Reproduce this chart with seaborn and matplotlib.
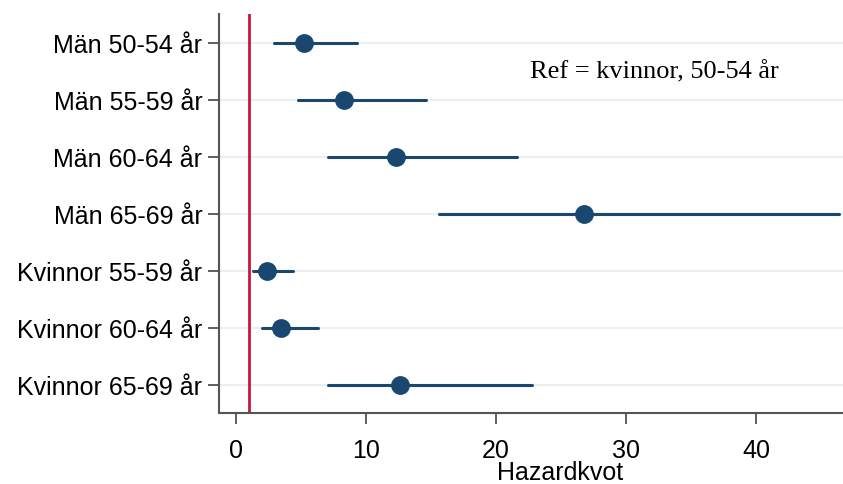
import numpy as np
import pandas as pd
import seaborn as sns
import matplotlib.pyplot as plt

# hazard ratios with 95% CI
groups = ['Män 50-54 år', 'Män 55-59 år', 'Män 60-64 år', 'Män 65-69 år',
          'Kvinnor 55-59 år', 'Kvinnor 60-64 år', 'Kvinnor 65-69 år']
hr    = [5.2, 8.3, 12.3, 26.8, 2.4, 3.45, 12.6]
ci_lo = [2.9, 4.75, 7.1, 15.6, 1.3, 2.0, 7.1]
ci_hi = [9.3, 14.6, 21.6, 46.4, 4.4, 6.3, 22.8]
ref_line = 1
xticks = [0, 10, 20, 30, 40]

navy = '#1a476f'
red = '#c8163e'

sns.set_style('white')
plt.rcParams['font.family'] = ['Liberation Sans', 'DejaVu Sans']
plt.rcParams['text.color'] = 'black'
plt.rcParams['xtick.labelcolor'] = 'black'
plt.rcParams['ytick.labelcolor'] = 'black'
plt.rcParams['axes.labelcolor'] = 'black'

# long table: lo / est / hi per group -> median gives estimate, min/max gives CI
df = pd.DataFrame({
    'grupp': np.repeat(groups, 3),
    'hr': np.column_stack([ci_lo, hr, ci_hi]).ravel(),
})

fig = plt.figure(figsize=(8.43, 4.85), dpi=100)
ax = fig.add_axes([0.2598, 0.146, 0.7402, 0.823])

for i in range(len(groups)):
    ax.axhline(i, color='#e9f0f2', lw=1.5, zorder=0)

sns.pointplot(data=df, x='hr', y='grupp', order=groups, estimator='median',
              errorbar=lambda v: (v.min(), v.max()), color=navy,
              linestyle='none', marker='o', markersize=11.5,
              err_kws={'linewidth': 2.2}, ax=ax)

ax.axvline(ref_line, color=red, lw=2, zorder=1)

ax.set_xlim(-1.3, 46.7)
ax.set_ylim(6.5, -0.5)
ax.set_xticks(xticks)
ax.set_xlabel('Hazardkvot', fontsize=18, labelpad=-1.5)
ax.xaxis.label.set_x(0.546)
ax.set_ylabel('')
ax.tick_params(axis='both', labelsize=18, length=8, width=1.2, color='#444444',
               left=True, bottom=True)
ax.tick_params(axis='x', pad=10)
ax.tick_params(axis='y', pad=4)

for s in ['top', 'right']:
    ax.spines[s].set_visible(False)
for s in ['left', 'bottom']:
    ax.spines[s].set_color('#555555')
    ax.spines[s].set_linewidth(1.5)

ax.text(22.6, 0.5, 'Ref = kvinnor, 50-54 år', fontsize=19,
        family=['Liberation Serif', 'DejaVu Serif'], va='center', ha='left')

fig.savefig('out.png', dpi=100)
